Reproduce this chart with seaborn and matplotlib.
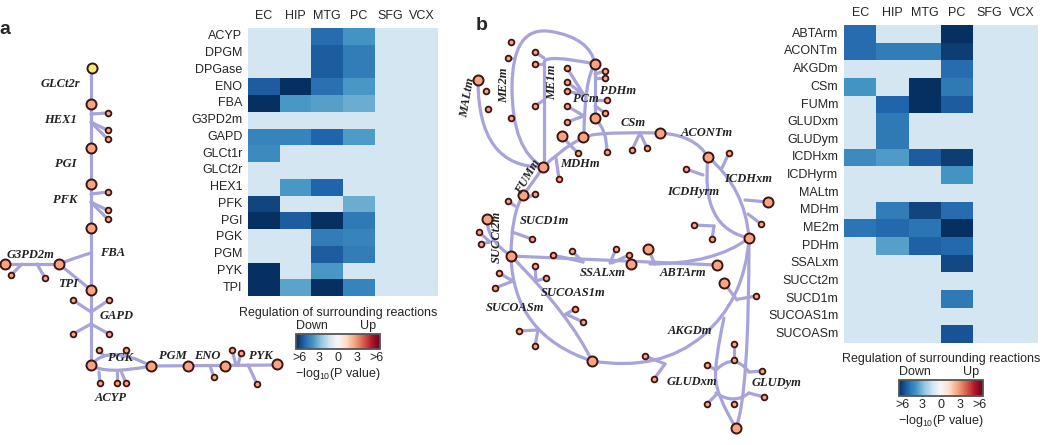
import numpy as np
import pandas as pd
import matplotlib
matplotlib.use('Agg')
import matplotlib.pyplot as plt
from matplotlib.path import Path
from matplotlib.patches import PathPatch
import seaborn as sns

sns.set_style('white')
plt.rcParams['font.family'] = ['Liberation Sans', 'DejaVu Sans']
plt.rcParams['mathtext.default'] = 'regular'

nan = np.nan
regions = ['EC', 'HIP', 'MTG', 'PC', 'SFG', 'VCX']

# panel a: glycolysis reactions, -log10(P) (negative = down)
reactions_a = ['ACYP', 'DPGM', 'DPGase', 'ENO', 'FBA', 'G3PD2m', 'GAPD', 'GLCt1r',
               'GLCt2r', 'HEX1', 'PFK', 'PGI', 'PGK', 'PGM', 'PYK', 'TPI']
ec_a = [nan, nan, nan, -5.0, -6.5, nan, -4.0, -3.8, nan, nan, -5.5, -6.0, nan, nan, -6.0, -6.0]
hip_a = [nan, nan, nan, -6.0, -3.5, nan, -4.0, nan, nan, -3.5, nan, -5.0, nan, nan, nan, -3.2]
mtg_a = [-4.6, -5.0, -5.0, -4.5, -3.3, nan, -4.8, nan, nan, -4.8, nan, -6.0, -4.2, -5.0, -3.5, -6.0]
pc_a = [-3.6, -4.2, -4.2, -3.5, -3.0, nan, -3.4, nan, nan, nan, -3.0, -4.3, -4.0, -4.2, nan, -4.0]
sfg_a = [nan] * 16
vcx_a = [nan] * 16

# panel b: TCA cycle reactions
reactions_b = ['ABTArm', 'ACONTm', 'AKGDm', 'CSm', 'FUMm', 'GLUDxm', 'GLUDym', 'ICDHxm',
               'ICDHyrm', 'MALtm', 'MDHm', 'ME2m', 'PDHm', 'SSALxm', 'SUCCt2m', 'SUCD1m',
               'SUCOAS1m', 'SUCOASm']
ec_b = [-4.6, -4.6, nan, -3.6, nan, nan, nan, -3.8, nan, nan, nan, -4.4, nan, nan, nan, nan, nan, nan]
hip_b = [nan, -4.2, nan, nan, -4.8, -4.3, -4.3, -3.4, nan, nan, -4.2, -4.7, -3.3, nan, nan, nan, nan, nan]
mtg_b = [nan, -4.2, nan, -6.5, -6.5, nan, nan, -5.0, nan, nan, -5.5, -4.4, -4.9, nan, nan, nan, nan, nan]
pc_b = [-6.5, -5.7, -4.6, -4.3, -5.0, nan, nan, -5.7, -3.6, nan, -4.6, -6.3, -4.7, -5.4, nan, -4.3, nan, -5.2]
sfg_b = [nan] * 18
vcx_b = [nan] * 18

cbar_ticks = [-6, -3, 0, 3, 6]
cbar_labels = ['>6', '3', '0', '3', '>6']

# network layout (pixel coordinates of the drawing)
yellow_a = [(92, 68)]
big_a = [(91, 104), (91, 148), (91, 184), (91, 228), (59, 264), (5, 264), (91, 290),
         (91, 365), (151, 366), (188, 366), (225, 366), (277, 364)]
small_a = [(108, 113), (108, 130), (108, 139), (108, 192), (108, 210), (108, 219), (11, 275),
           (45, 278), (73, 300), (109, 300), (73, 334), (109, 334), (99, 350), (126, 350),
           (100, 383), (117, 383), (126, 383), (214, 377), (232, 350), (241, 353), (257, 384)]
paths_a = [
    [(91, 68), (91, 365)],
    [(91, 114), (108, 113)], [(91, 122), (100, 127), (108, 130)], [(91, 122), (100, 132), (108, 139)],
    [(91, 194), (108, 192)], [(91, 202), (100, 207), (108, 210)], [(91, 202), (100, 212), (108, 219)],
    [(91, 253), (80, 256), (59, 264)],
    [(59, 264), (5, 264)], [(37, 264), (45, 278)], [(22, 264), (11, 275)],
    [(59, 264), (91, 290)],
    [(91, 312), (73, 300)], [(91, 312), (109, 300)], [(91, 324), (73, 334)], [(91, 324), (109, 334)],
    [(91, 365), (100, 354), (130, 355), (151, 366)], [(104, 356), (99, 350)], [(124, 356), (126, 350)],
    [(91, 365), (105, 375), (151, 366)], [(99, 372), (100, 383)], [(117, 372), (117, 383)],
    [(121, 371), (126, 383)],
    [(151, 366), (277, 365)], [(210, 366), (214, 377)],
    [(236, 365), (232, 350)], [(238, 365), (241, 353)], [(248, 365), (257, 384)],
]
labels_a = [('GLCt2r', 60, 84, 0), ('HEX1', 60, 120, 0), ('PGI', 66, 164, 0), ('PFK', 65, 200, 0),
            ('FBA', 113, 253, 0), ('G3PD2m', 31, 255, 0), ('TPI', 68, 284, 0),
            ('GAPD', 117, 316, 0), ('PGK', 121, 358, 0), ('ACYP', 111, 398, 0),
            ('PGM', 173, 356, 0), ('ENO', 207, 356, 0), ('PYK', 261, 356, 0)]

big_b = [(595, 64), (478, 80), (595, 118), (562, 136), (583, 137), (660, 133), (543, 167),
         (708, 157), (523, 195), (768, 202), (487, 219), (511, 256), (631, 264), (648, 249),
         (717, 265), (749, 238), (724, 283), (592, 361), (736, 428)]
small_b = [(511, 42), (508, 58), (535, 52), (535, 64), (567, 68), (605, 71), (605, 78), (486, 91),
           (488, 109), (567, 82), (567, 91), (567, 106), (535, 106), (607, 100), (605, 113),
           (567, 122), (511, 118), (578, 153), (607, 152), (632, 150), (647, 148), (559, 179),
           (729, 153), (686, 169), (535, 194), (508, 201), (479, 232), (481, 244), (532, 239),
           (553, 255), (572, 251), (616, 249), (629, 255), (694, 225), (712, 239), (761, 224),
           (535, 266), (546, 278), (499, 273), (495, 288), (756, 296), (575, 309), (583, 322),
           (519, 331), (535, 346), (645, 356), (654, 379), (734, 344), (734, 360), (707, 365),
           (762, 371), (764, 397), (707, 404), (734, 404)]
paths_b = [
    [(543, 167), (512, 150), (512, 25), (590, 38), (595, 64)],
    [(544, 167), (544, 62)], [(544, 62), (546, 54), (595, 64)],
    [(543, 167), (478, 168), (478, 80)],
    [(584, 137), (584, 80), (595, 64)],
    [(595, 64), (595, 118)], [(595, 118), (607, 130), (607, 152)],
    [(523, 195), (535, 180), (543, 167)],
    [(543, 167), (575, 137), (615, 132), (660, 133)],
    [(660, 133), (695, 135), (708, 157)],
    [(708, 157), (745, 188), (749, 238)],
    [(708, 157), (700, 228), (749, 238)],
    [(749, 238), (715, 264), (650, 264)],
    [(511, 256), (717, 265)],
    [(523, 195), (511, 215), (511, 256)],
    [(487, 219), (487, 240), (511, 256)],
    [(511, 256), (513, 335), (592, 361)],
    [(511, 256), (570, 315), (592, 361)],
    [(592, 361), (660, 372), (745, 300), (749, 238)],
    [(749, 238), (749, 395), (736, 428)],
    [(724, 318), (715, 360), (716, 395), (736, 428)],
    [(716, 370), (734, 352), (749, 372)], [(716, 393), (734, 405), (749, 393)],
    # side reactions
    [(508, 58), (512, 58)], [(535, 52), (544, 58)], [(535, 64), (544, 64)], [(535, 106), (544, 100)],
    [(567, 68), (584, 95)], [(567, 82), (584, 95)], [(567, 91), (584, 95)],
    [(567, 106), (584, 116)], [(567, 122), (584, 116)],
    [(605, 71), (595, 74)], [(605, 78), (595, 78)], [(607, 100), (595, 100)], [(605, 113), (595, 106)],
    [(562, 136), (570, 145)], [(570, 145), (578, 153)], [(559, 179), (556, 158)],
    [(640, 133), (632, 150)], [(640, 133), (647, 148)],
    [(722, 168), (729, 153)], [(745, 200), (768, 202)], [(748, 214), (761, 224)],
    [(686, 169), (703, 175)], [(694, 225), (714, 226)], [(712, 239), (714, 226)],
    [(648, 249), (655, 264)],
    [(553, 255), (583, 262)], [(572, 251), (583, 262)], [(616, 249), (610, 263)], [(629, 255), (612, 263)],
    [(532, 239), (512, 232)], [(508, 201), (515, 206)], [(535, 194), (527, 198)],
    [(479, 232), (490, 242)], [(481, 244), (490, 242)],
    [(535, 266), (536, 281)], [(546, 278), (536, 281)], [(575, 309), (566, 314)], [(583, 322), (566, 314)],
    [(499, 273), (513, 281)], [(495, 288), (513, 281)], [(519, 331), (538, 330)], [(535, 346), (538, 330)],
    [(645, 356), (665, 364)], [(654, 379), (665, 364)], [(724, 283), (737, 300)], [(756, 296), (739, 299)],
    [(707, 365), (716, 370)], [(707, 404), (716, 395)], [(734, 344), (734, 352)],
    [(734, 360), (734, 352)], [(762, 371), (749, 372)], [(764, 397), (749, 393)],
]
labels_b = [('ME2m', 504, 85, 90), ('ME1m', 552, 82, 90), ('MALtm', 468, 98, 80),
            ('PCm', 586, 99, 0), ('PDHm', 618, 91, 0), ('CSm', 633, 123, 0),
            ('ACONTm', 707, 133, 0), ('MDHm', 580, 164, 0), ('FUMm', 528, 177, 60),
            ('ICDHxm', 748, 179, 0), ('ICDHyrm', 693, 192, 0), ('SUCD1m', 544, 221, 0),
            ('SUCCt2m', 497, 237, 90), ('SSALxm', 603, 273, 0), ('ABTArm', 683, 273, 0),
            ('SUCOAS1m', 573, 293, 0), ('SUCOASm', 515, 308, 0), ('AKGDm', 690, 331, 0),
            ('GLUDxm', 692, 382, 0), ('GLUDym', 777, 383, 0)]

EDGE = '#a7a4dc'
W, H = 1050, 445

fig = plt.figure(figsize=(10.5, 4.45), dpi=100)
net = fig.add_axes([0, 0, 1, 1])
net.set_xlim(0, W)
net.set_ylim(H, 0)
net.axis('off')


def draw_path(pts):
    pts = np.asarray(pts, float)
    verts = [pts[0]]
    codes = [Path.MOVETO]
    if len(pts) == 2:
        verts.append(pts[1])
        codes.append(Path.LINETO)
    else:
        for i in range(1, len(pts) - 1):
            end = pts[-1] if i == len(pts) - 2 else (pts[i] + pts[i + 1]) / 2
            verts += [pts[i], end]
            codes += [Path.CURVE3, Path.CURVE3]
    net.add_patch(PathPatch(Path(verts, codes), fill=False, ec=EDGE, lw=2.3,
                            capstyle='round', joinstyle='round', zorder=1))


def draw_nodes(pts, size, color, lw):
    xy = np.array(pts)
    net.scatter(xy[:, 0], xy[:, 1], s=size, c=color, edgecolors='#3b1510',
                linewidths=lw, zorder=3)


for p in paths_a + paths_b:
    draw_path(p)
draw_nodes(big_a + big_b, 52, '#f9a385', 1.4)
draw_nodes(small_a + small_b, 17, '#f9a385', 1.3)
draw_nodes(yellow_a, 52, '#f2ec72', 1.4)

for name, x, y, rot in labels_a + labels_b:
    net.text(x, y, name, ha='center', va='center', rotation=rot, fontsize=9,
             family='Liberation Serif', style='italic', weight='bold', color='#222222', zorder=4)

net.text(5, 30, 'a', fontsize=14, weight='bold', ha='center', va='center')
net.text(482, 26, 'b', fontsize=14, weight='bold', ha='center', va='center')


def heat(cols, rows, box):
    left, top, right, bottom = box
    ax = fig.add_axes([left / W, 1 - bottom / H, (right - left) / W, (bottom - top) / H])
    df = pd.DataFrame(dict(zip(regions, cols)), index=rows)
    sns.heatmap(df, cmap='RdBu_r', vmin=-6, vmax=6, cbar=False, ax=ax)
    ax.set_facecolor('#d5e6f3')
    ax.xaxis.tick_top()
    ax.tick_params(length=0, labelsize=9, pad=4)
    ax.set_yticklabels(rows, rotation=0)
    ax.set_xticklabels(regions, rotation=0)
    return ax


heat([ec_a, hip_a, mtg_a, pc_a, sfg_a, vcx_a], reactions_a, (248, 28, 438, 296))
heat([ec_b, hip_b, mtg_b, pc_b, sfg_b, vcx_b], reactions_b, (844, 25, 1038, 343))


def colorbar(x0, y0, x1, y1):
    cax = fig.add_axes([x0 / W, 1 - y1 / H, (x1 - x0) / W, (y1 - y0) / H])
    sm = plt.cm.ScalarMappable(cmap='RdBu_r', norm=plt.Normalize(-6.6, 6.6))
    cb = fig.colorbar(sm, cax=cax, orientation='horizontal')
    cb.set_ticks(cbar_ticks)
    cb.set_ticklabels(cbar_labels)
    cb.outline.set_edgecolor('#555555')
    cb.outline.set_linewidth(1.3)
    cax.tick_params(direction='in', length=3, width=1, color='#333333', labelsize=9, pad=2,
                    top=True, bottom=True)
    cx = (x0 + x1) / 2
    net.text(cx, y0 - 21, 'Regulation of surrounding reactions', ha='center', va='center', fontsize=9)
    net.text(x0 + 16, y0 - 8, 'Down', ha='center', va='center', fontsize=9)
    net.text(x1 - 12, y0 - 8, 'Up', ha='center', va='center', fontsize=9)
    net.text(cx, y1 + 25, '\u2212log$_{10}$(P value)', ha='center', va='center', fontsize=9)


colorbar(296, 334, 380, 349)
colorbar(899, 380, 983, 396)

fig.savefig('out.png', dpi=100)
